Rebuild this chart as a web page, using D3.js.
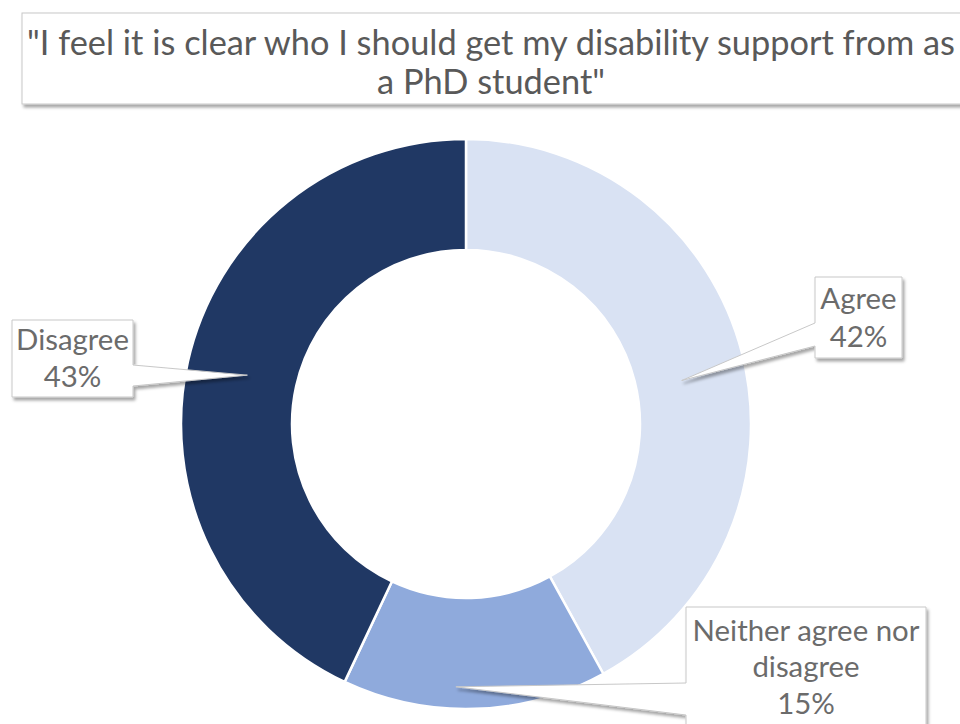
<!DOCTYPE html>
<html>
<head>
<meta charset="utf-8">
<script src="https://cdn.jsdelivr.net/npm/d3@7/dist/d3.min.js"></script>
<style>
  html, body { margin: 0; padding: 0; background: #fff; }
  svg { display: block; }
  text { font-family: Lato, "Open Sans", sans-serif; }
</style>
</head>
<body>
<svg id="chart" width="960" height="724"></svg>
<script>
// ---- data ----
const titleLines = ['"I feel it is clear who I should get my disability support from as', 'a PhD student"'];
const categories = ["Agree", "Neither agree nor disagree", "Disagree"];
const values = [42, 15, 43];
const colors = ["#D9E2F3", "#8FAADC", "#203864"];
const labelLines = [["Agree", "42%"], ["Neither agree nor", "disagree", "15%"], ["Disagree", "43%"]];

// ---- layout ----
const W = 960, H = 724;
const cx = 466, cy = 424, R = 285, r = 174;
const svg = d3.select("#chart");

const defs = svg.append("defs");
const f = defs.append("filter").attr("id", "shadow").attr("x", "-10%").attr("y", "-10%").attr("width", "130%").attr("height", "140%");
f.append("feDropShadow").attr("dx", 2).attr("dy", 3).attr("stdDeviation", 1.6)
  .attr("flood-color", "#000").attr("flood-opacity", 0.35);

// Title box
svg.append("rect").attr("x", 22).attr("y", 13).attr("width", 960).attr("height", 91)
  .attr("fill", "#fff").attr("stroke", "#c8c8c8").attr("stroke-width", 1).attr("filter", "url(#shadow)");
const title = svg.append("g");
const t1 = title.append("text").attr("x", 491).attr("y", 55).attr("text-anchor", "middle")
  .attr("fill", "#595959").attr("font-size", 30).text(titleLines[0]);
const w1 = t1.node().getComputedTextLength();
const titleSize = 30 * 928 / w1;
t1.attr("font-size", titleSize);
title.append("text").attr("x", 491).attr("y", 94).attr("text-anchor", "middle")
  .attr("fill", "#595959").attr("font-size", titleSize).text(titleLines[1]);

// Donut
const pie = d3.pie().sort(null).value(d => d)(values);
const arc = d3.arc().innerRadius(r).outerRadius(R);
const g = svg.append("g").attr("transform", `translate(${cx},${cy})`);
g.selectAll("path").data(pie).join("path")
  .attr("d", arc)
  .attr("fill", (d, i) => colors[i])
  .attr("stroke", "#fff").attr("stroke-width", 2.5).attr("stroke-linejoin", "round");

// Callouts
const boxes = [
  { box: [815, 277, 902, 358], side: "left", wedge: [323, 346], tipR: 220, angOff: 3, lines: [309, 347] },
  { box: [686, 607, 926, 760], side: "left", wedge: [683, 715], tipR: 263, angOff: 4, lines: [641, 677, 714] },
  { box: [12, 320, 133, 397], side: "right", wedge: [365, 386], tipR: 224, angOff: 0, lines: [350, 387] }
];

// Font size for labels fitted to measured width
const probe = svg.append("text").attr("font-size", 26).text(labelLines[1][0]);
const labelSize = 26 * 227 / probe.node().getComputedTextLength();
probe.remove();

pie.forEach((d, i) => {
  const b = boxes[i];
  const mid = (d.startAngle + d.endAngle) / 2 + b.angOff * Math.PI / 180;
  const tx = cx + b.tipR * Math.sin(mid), ty = cy - b.tipR * Math.cos(mid);
  const [x0, y0, x1, y1] = b.box;
  let p;
  if (b.side === "left") {
    p = `M${x0},${y0}H${x1}V${y1}H${x0}V${b.wedge[1]}L${tx},${ty}L${x0},${b.wedge[0]}Z`;
  } else {
    p = `M${x0},${y0}H${x1}V${b.wedge[0]}L${tx},${ty}L${x1},${b.wedge[1]}V${y1}H${x0}Z`;
  }
  svg.append("path").attr("d", p).attr("fill", "#fff").attr("stroke", "#c8c8c8")
    .attr("stroke-width", 1).attr("filter", "url(#shadow)");
  const xc = (x0 + x1) / 2;
  labelLines[i].forEach((t, k) => {
    svg.append("text").attr("x", xc).attr("y", b.lines[k]).attr("text-anchor", "middle")
      .attr("fill", "#6b6b6b").attr("font-size", labelSize).text(t);
  });
});
</script>
</body>
</html>
